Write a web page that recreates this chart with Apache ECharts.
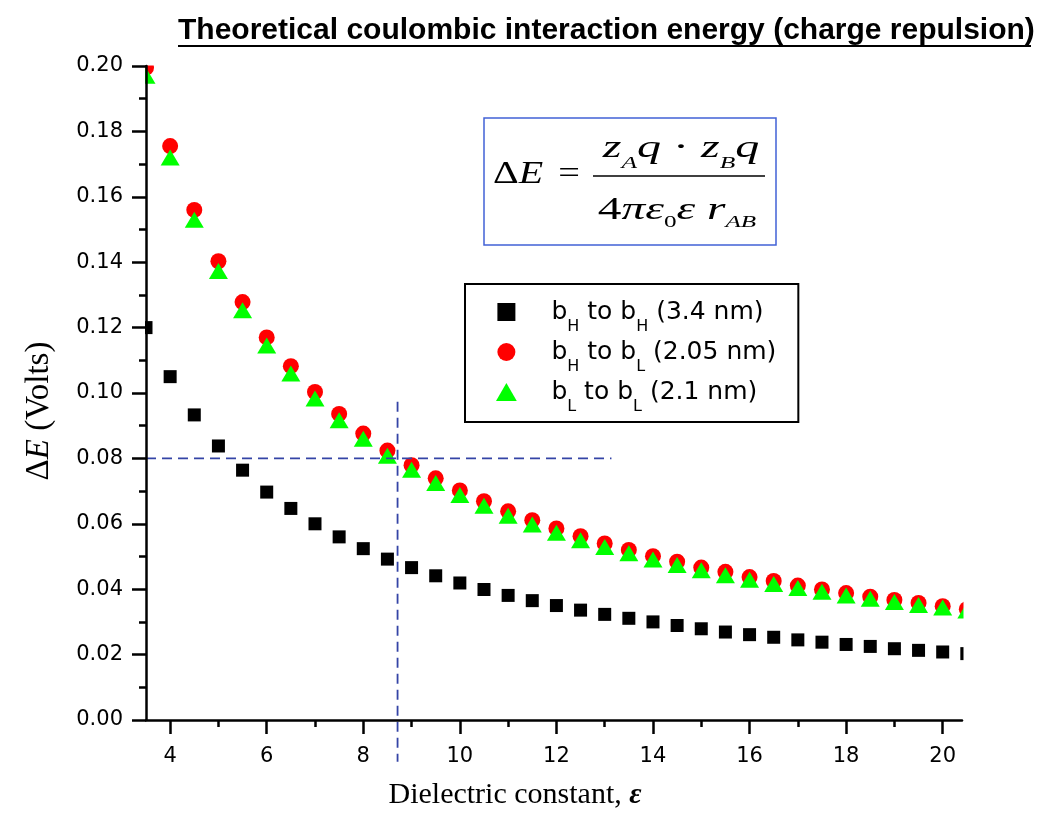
<!DOCTYPE html>
<html><head><meta charset="utf-8">
<script src="https://cdn.jsdelivr.net/npm/echarts@6/dist/echarts.min.js"></script>
<style>html,body{margin:0;padding:0;background:#fff}#c{width:1050px;height:834px}</style>
</head><body><div id="c"></div>
<script>
// ---- data ----
const epsilon = [3.5,4,4.5,5,5.5,6,6.5,7,7.5,8,8.5,9,9.5,10,10.5,11,11.5,12,12.5,13,13.5,14,14.5,15,15.5,16,16.5,17,17.5,18,18.5,19,19.5,20,20.5];
const bHbH = [0.120,0.105,0.0933,0.0838,0.0764,0.0697,0.0647,0.0600,0.0560,0.0524,0.0492,0.0466,0.0441,0.0419,0.0399,0.0381,0.0365,0.0350,0.0336,0.0323,0.0311,0.0300,0.0289,0.0279,0.0269,0.0261,0.0253,0.0245,0.0238,0.0231,0.0225,0.0218,0.0213,0.0208,0.0203];
const bHbL = [0.1995,0.1755,0.156,0.1403,0.1278,0.117,0.1082,0.1003,0.0936,0.0876,0.0824,0.0779,0.0739,0.0702,0.0669,0.0638,0.0611,0.0586,0.0562,0.0540,0.0520,0.0501,0.0484,0.0466,0.0453,0.0437,0.0425,0.0411,0.0399,0.0388,0.0377,0.0367,0.0358,0.0348,0.0339];
const bLbL = [0.1970,0.1720,0.1530,0.1373,0.1253,0.1145,0.1060,0.0983,0.0917,0.0860,0.0808,0.0765,0.0725,0.0688,0.0655,0.0625,0.0598,0.0573,0.0550,0.0529,0.0510,0.0491,0.0474,0.0458,0.0443,0.0429,0.0416,0.0404,0.0392,0.0381,0.0371,0.0361,0.0352,0.0344,0.0335];
const xMajorTicks = [4,6,8,10,12,14,16,18,20];
const xMinorTicks = [5,7,9,11,13,15,17,19];
const hGuide = [[3.5,0.08],[13.14,0.08]];
const vGuide = [[8.71,0.0973],[8.71,-0.0128]];
const seriesNames = ['bH to bH (3.4 nm)','bH to bL (2.05 nm)','bL to bL (2.1 nm)'];
const legendLabels = ['{m|b}{s|H}{m| to b}{s|H}{m| (3.4 nm)}','{m|b}{s|H}{m| to b}{s|L}{m| (2.05 nm)}','{m|b}{s|L}{m| to b}{s|L}{m| (2.1 nm)}'];

const pairs = v => epsilon.map((e,i)=>[e,v[i]]);
const serif = 'Liberation Serif';
const sans = 'Liberation Sans';
const guideColor = '#3444a6';
const mask = (x,y,w,h) => ({type:'rect',z:8,silent:true,shape:{x,y,width:w,height:h},style:{fill:'#fff'}});

const chart = echarts.init(document.getElementById('c'), null, {renderer:'canvas'});
chart.setOption({
  animation:false,
  backgroundColor:'#fff',
  grid:{left:146,right:88,top:66,bottom:114,containLabel:false},
  xAxis:[{
    type:'value',position:'bottom',min:3.5,max:20.4,z:10,
    axisLine:{show:true,onZero:false,lineStyle:{color:'#000',width:2.5}},
    axisTick:{show:true,customValues:xMajorTicks,length:14,inside:false,lineStyle:{color:'#000',width:2.5}},
    axisLabel:{customValues:xMajorTicks,margin:26,color:'#000',fontFamily:'DejaVu Sans',fontSize:21},
    splitLine:{show:false},
    name:'{t|Dielectric constant, }{e|ε}',nameLocation:'middle',nameGap:60,
    nameTextStyle:{padding:[0,78,0,0],rich:{
      t:{fontFamily:serif,fontSize:30,color:'#000'},
      e:{fontFamily:serif,fontSize:30,fontStyle:'italic',fontWeight:'bold',color:'#000'}}}
  },{
    type:'value',position:'bottom',min:3.5,max:20.4,z:10,
    axisLine:{show:false},
    axisTick:{show:true,customValues:xMinorTicks,length:7,lineStyle:{color:'#000',width:2.5}},
    axisLabel:{show:false},splitLine:{show:false}
  }],
  yAxis:{
    type:'value',min:0,max:0.2,interval:0.02,z:10,
    axisLine:{show:true,lineStyle:{color:'#000',width:2.5}},
    axisTick:{show:true,length:14,lineStyle:{color:'#000',width:2.5}},
    minorTick:{show:true,splitNumber:2,length:7,lineStyle:{color:'#000',width:2.5}},
    axisLabel:{margin:23,color:'#000',fontFamily:'DejaVu Sans',fontSize:21,formatter:v=>v.toFixed(2)},
    splitLine:{show:false},
    name:'{d|Δ}{e|E}{d| (Volts)}',nameLocation:'middle',nameGap:90,nameRotate:90,
    nameTextStyle:{padding:[0,36,0,0],rich:{
      d:{fontFamily:serif,fontSize:33,color:'#000'},
      e:{fontFamily:serif,fontSize:33,fontStyle:'italic',color:'#000'}}}
  },
  legend:{
    orient:'vertical',left:465,top:284,
    padding:[5,22,7,31],itemGap:-6,itemWidth:80,itemHeight:18,
    borderColor:'#000',borderWidth:2,backgroundColor:'#fff',
    selectedMode:false,
    data:[
      {name:seriesNames[0],icon:'path://M0,0H1V1H0Z'},
      {name:seriesNames[1],icon:'path://M1,0.5A0.5,0.5,0,1,1,0,0.5A0.5,0.5,0,1,1,1,0.5Z'},
      {name:seriesNames[2],icon:'path://M0.5,0L1,0.866L0,0.866Z'}],
    formatter:name=>legendLabels[seriesNames.indexOf(name)],
    textStyle:{color:'#000',fontFamily:'DejaVu Sans',fontSize:25,rich:{
      m:{fontFamily:'DejaVu Sans',fontSize:25,lineHeight:25,color:'#000'},
      s:{fontFamily:'DejaVu Sans',fontSize:16,lineHeight:25,padding:[30,0,0,0],color:'#000'}}}
  },
  series:[
    {name:seriesNames[0],type:'scatter',data:pairs(bHbH),symbol:'rect',symbolSize:13,itemStyle:{color:'#000',opacity:1},clip:false,z:3},
    {name:seriesNames[1],type:'scatter',data:pairs(bHbL),symbol:'circle',symbolSize:16,itemStyle:{color:'#ff0000',opacity:1},clip:false,z:4},
    {name:seriesNames[2],type:'scatter',data:pairs(bLbL),symbol:'triangle',symbolSize:[19,16],itemStyle:{color:'#00ff00',opacity:1},clip:false,z:5},
    {type:'line',data:hGuide,symbol:'none',clip:false,z:6,lineStyle:{color:guideColor,width:1.8,type:[10,6]}},
    {type:'line',data:vGuide,symbol:'none',clip:false,z:6,lineStyle:{color:guideColor,width:1.8,type:[10,6]}}
  ],
  graphic:[
    mask(963.5,50,87,668.5), mask(100,48,870,17.5), mask(90,60,55,658.5),
    {type:'text',x:178,y:31,style:{text:'Theoretical coulombic interaction energy (charge repulsion)',
      fontFamily:sans,fontWeight:'bold',fontSize:30,fill:'#000',align:'left',verticalAlign:'middle'}},
    {type:'line',shape:{x1:178,y1:46,x2:1031,y2:46},style:{stroke:'#000',lineWidth:2}},
    {type:'rect',shape:{x:484,y:118,width:292,height:127},style:{fill:'#fff',stroke:'#4262d6',lineWidth:1.5},z:10},
    {type:'text',x:493,y:175,scaleX:1.25,z:11,style:{text:'{u|Δ}{i|E}',align:'left',verticalAlign:'middle',
      rich:{u:{fontFamily:serif,fontSize:32,lineHeight:36,fill:'#000'},i:{fontFamily:serif,fontSize:32,fontStyle:'italic',lineHeight:36,fill:'#000'}}}},
    {type:'text',x:569,y:175,scaleX:1.2,z:11,style:{text:'=',fontFamily:serif,fontSize:32,fill:'#000',align:'center',verticalAlign:'middle'}},
    {type:'line',z:11,shape:{x1:593,y1:176,x2:765,y2:176},style:{stroke:'#000',lineWidth:1.5}},
    {type:'text',x:681,y:149,scaleX:1.5,z:11,style:{text:'{i|z}{s|A}{i|q}{n| · }{i|z}{s|B}{i|q}',align:'center',verticalAlign:'middle',
      rich:{i:{fontFamily:serif,fontSize:32,fontStyle:'italic',lineHeight:36,fill:'#000'},
            n:{fontFamily:serif,fontSize:32,lineHeight:36,fill:'#000'},
            s:{fontFamily:serif,fontSize:17,fontStyle:'italic',lineHeight:36,padding:[30,0,0,0],fill:'#000'}}}},
    {type:'text',x:677,y:211,scaleX:1.48,z:11,style:{text:'{n|4}{i|πε}{u|0}{i|ε r}{s|AB}',align:'center',verticalAlign:'middle',
      rich:{i:{fontFamily:serif,fontSize:32,fontStyle:'italic',lineHeight:36,fill:'#000'},
            n:{fontFamily:serif,fontSize:32,lineHeight:36,fill:'#000'},
            u:{fontFamily:serif,fontSize:17,lineHeight:36,padding:[23,0,0,0],fill:'#000'},
            s:{fontFamily:serif,fontSize:17,fontStyle:'italic',lineHeight:36,padding:[23,0,0,0],fill:'#000'}}}}
  ]
});
</script></body></html>
